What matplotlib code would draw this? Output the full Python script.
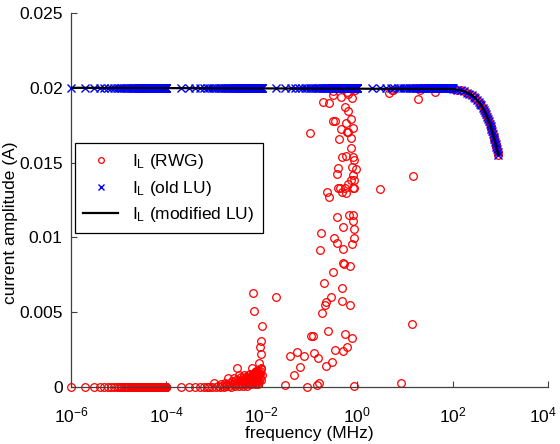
import numpy as np
import matplotlib
matplotlib.use("Agg")
import matplotlib.pyplot as plt
import matplotlib.transforms as mtransforms
from matplotlib.ticker import FixedLocator, FixedFormatter, NullLocator

plt.rcParams["font.family"] = ["Liberation Sans", "DejaVu Sans"]
plt.rcParams["mathtext.fontset"] = "custom"
plt.rcParams["mathtext.rm"] = "Liberation Sans"
plt.rcParams["mathtext.it"] = "Liberation Sans:italic"

# frequency sweep: linear steps inside each block (step in MHz, number of points)
sweep_step = [1e-6, 1e-4, 1e-2, 1.0]
sweep_count = [100, 100, 100, 100]
I_FLAT = 0.02                     # current amplitude before roll-off (A)

# high-frequency roll-off (MHz, A), both LU solvers sit on this curve
roll_freq = [100, 125, 150, 175, 200, 225, 250, 275, 300, 325, 350, 375, 400, 425,
             450, 475, 500, 525, 550, 575, 600, 625, 650, 675, 700, 725, 750, 775,
             800, 825, 850, 875, 900]
roll_amp = [0.01992, 0.01987, 0.01982, 0.01976, 0.01968, 0.01960, 0.01951, 0.01941,
            0.01931, 0.01919, 0.01907, 0.01895, 0.01882, 0.01868, 0.01853, 0.01839,
            0.01824, 0.01808, 0.01792, 0.01776, 0.01759, 0.01743, 0.01726, 0.01709,
            0.01692, 0.01674, 0.01657, 0.01640, 0.01623, 0.01605, 0.01588, 0.01571,
            0.01554]

# RWG on the second block (1e-4 MHz steps), points 10..100; points 1..9 and block 1 are zero
rwg_blk2_amp = [
    0.0003, 0.0000, 0.0001, 0.0000, 0.0002, 0.0001, 0.0000, 0.0003, 0.0001, 0.0002,
    0.0006, 0.0001, 0.0003, 0.0000, 0.0004, 0.0002, 0.0006, 0.0001, 0.0003, 0.0005,
    0.0013, 0.0002, 0.0004, 0.0008, 0.0001, 0.0005, 0.0003, 0.0007, 0.0002, 0.0004,
    0.0006, 0.0001, 0.0003, 0.0008, 0.0005, 0.0002, 0.0004, 0.0007, 0.0003, 0.0006,
    0.0001, 0.0005, 0.0008, 0.0002, 0.0006, 0.0004, 0.0009, 0.0003, 0.0007, 0.0005,
    0.0002, 0.0008, 0.0013, 0.0004, 0.0006, 0.0063, 0.0009, 0.0003, 0.0051, 0.0007,
    0.0005, 0.0010, 0.0002, 0.0008, 0.0006, 0.0011, 0.0004, 0.0009, 0.0003, 0.0007,
    0.0010, 0.0005, 0.0008, 0.0002, 0.0011, 0.0006, 0.0009, 0.0016, 0.0004, 0.0008,
    0.0011, 0.0006, 0.0027, 0.0009, 0.0005, 0.0012, 0.0022, 0.0013, 0.0031, 0.0041,
    0.0008]

# RWG above 0.01 MHz: scattered between 0 and the LU curve
rwg_freq = [0.020, 0.0306, 0.039, 0.047, 0.055, 0.063, 0.077, 0.089, 0.102, 0.107,
            0.118, 0.124, 0.144, 0.151, 0.158, 0.166, 0.174, 0.183, 0.192, 0.201,
            0.211, 0.222, 0.225, 0.233, 0.244, 0.256, 0.260, 0.283, 0.296, 0.311,
            0.305, 0.315, 0.327, 0.343, 0.343, 0.378, 0.380, 0.375, 0.396, 0.400,
            0.415, 0.436, 0.457, 0.460, 0.480, 0.475, 0.480, 0.485, 0.504, 0.500,
            0.510, 0.504, 0.528, 0.555, 0.550, 0.555, 0.582, 0.585, 0.580, 0.611,
            0.611, 0.641, 0.640, 0.645, 0.640, 0.673, 0.706, 0.700, 0.741, 0.740,
            0.745, 0.741, 0.778, 0.778, 0.775, 0.780, 0.816, 0.816, 0.820, 0.810,
            0.816, 0.820, 0.857, 0.857, 0.860, 0.857, 0.850, 0.857, 0.944, 0.311,
            0.611, 0.899, 3.0, 4.6, 5.3, 5.7, 8.3, 14.1, 14.8, 18.8, 20.7, 42.8]
rwg_amp = [0.00602, 0.00013, 0.00207, 0.00080, 0.00234, 0.00134, 0.00207, 0.00000,
           0.01698, 0.00341, 0.00341, 0.00227, 0.00013, 0.00194, 0.00027, 0.00916,
           0.01029, 0.00495, 0.01905, 0.00695, 0.00548, 0.00568, 0.00140, 0.01303,
           0.00374, 0.01898, 0.01270, 0.00602, 0.00167, 0.01952, 0.01778, 0.00769,
           0.00996, 0.01778, 0.00247, 0.01424, 0.01136, 0.00963, 0.01464, 0.01330,
           0.01658, 0.01330, 0.01938, 0.01724, 0.01537, 0.01303, 0.00662, 0.00575,
           0.01069, 0.00922, 0.00829, 0.00241, 0.00822, 0.01872, 0.01330, 0.00354,
           0.01765, 0.01544, 0.01297, 0.01704, 0.00267, 0.01958, 0.01845, 0.01704,
           0.01357, 0.01150, 0.00809, 0.00548, 0.01791, 0.01664, 0.01597, 0.01384,
           0.01932, 0.01470, 0.00956, 0.00328, 0.01731, 0.01537, 0.01417, 0.01330,
           0.01150, 0.01110, 0.01517, 0.01384, 0.01330, 0.01056, 0.00996, 0.00007,
           0.01457, 0.01980, 0.01975, 0.01985, 0.01323, 0.01965, 0.01985, 0.01985,
           0.00025, 0.00421, 0.01410, 0.01925, 0.01985, 0.01972]

x_ticks = [1e-6, 1e-4, 1e-2, 1e0, 1e2, 1e4]
x_tick_labels = [r"$\mathregular{10^{-6}}$", r"$\mathregular{10^{-4}}$",
                 r"$\mathregular{10^{-2}}$", r"$\mathregular{10^{0}}$",
                 r"$\mathregular{10^{2}}$", r"$\mathregular{10^{4}}$"]
y_ticks = [0, 0.005, 0.01, 0.015, 0.02, 0.025]
y_tick_labels = ["0", "0.005", "0.01", "0.015", "0.02", "0.025"]

# build the sweep grid
freq = np.concatenate([s * np.arange(1, n + 1) for s, n in zip(sweep_step, sweep_count)])
lu_freq = np.concatenate([freq, roll_freq])
lu_amp = np.concatenate([np.full(len(freq), I_FLAT), roll_amp])

rwg_f = np.concatenate([freq[:109], freq[109:200], rwg_freq, roll_freq])
rwg_a = np.concatenate([np.zeros(109), rwg_blk2_amp, rwg_amp, roll_amp])

fig = plt.figure(figsize=(5.6, 4.44), dpi=100)
ax = fig.add_axes([71 / 560, 1 - 387 / 444, 477 / 560, 374 / 444])

ax.plot(rwg_f, rwg_a, "o", ls="none", mfc="none", mec="#ff0000", ms=5.5, mew=0.9,
        clip_on=False, label=r"I$_\mathregular{L}$ (RWG)", zorder=2)
ax.plot(lu_freq, lu_amp, "x", ls="none", color="#0000ff", ms=6, mew=1.0,
        clip_on=False, label=r"I$_\mathregular{L}$ (old LU)", zorder=3)
ax.plot([1e-6] + roll_freq, [I_FLAT] + roll_amp, "-", color="black", lw=1.6,
        label=r"I$_\mathregular{L}$ (modified LU)", zorder=4)

ax.set_xscale("log")
ax.set_xlim(1e-6, 1e4)
ax.set_ylim(0, 0.025)
ax.xaxis.set_major_locator(FixedLocator(x_ticks))
ax.xaxis.set_major_formatter(FixedFormatter(x_tick_labels))
ax.xaxis.set_minor_locator(NullLocator())
ax.yaxis.set_major_locator(FixedLocator(y_ticks))
ax.yaxis.set_major_formatter(FixedFormatter(y_tick_labels))

for side in ("top", "right"):
    ax.spines[side].set_visible(False)
for side in ("left", "bottom"):
    ax.spines[side].set_color("#404040")
    ax.spines[side].set_linewidth(0.9)
ax.tick_params(direction="in", length=4, width=0.8, color="#404040",
               labelsize=12.5, pad=6)
ax.tick_params(axis="x", pad=13)

# keep the last decade label inside the figure
last = ax.xaxis.get_major_ticks()[-1].label1
last.set_horizontalalignment("right")
last.set_transform(last.get_transform() +
                   mtransforms.ScaledTranslation(9 / 100, 0, fig.dpi_scale_trans))

ax.set_xlabel("frequency (MHz)", fontsize=12.5, labelpad=1)
ax.set_ylabel("current amplitude (A)", fontsize=12.5)
ax.yaxis.set_label_coords(-0.112, 0.44)

leg = ax.legend(loc="upper left", bbox_to_anchor=(0.008, 0.652), borderaxespad=0,
                fontsize=12.5, handlelength=2.0, labelspacing=0.45,
                markerscale=0.75, fancybox=False, framealpha=1, borderpad=0.5)
leg.get_frame().set_edgecolor("black")
leg.get_frame().set_linewidth(0.9)

fig.savefig("out.png", dpi=100)
